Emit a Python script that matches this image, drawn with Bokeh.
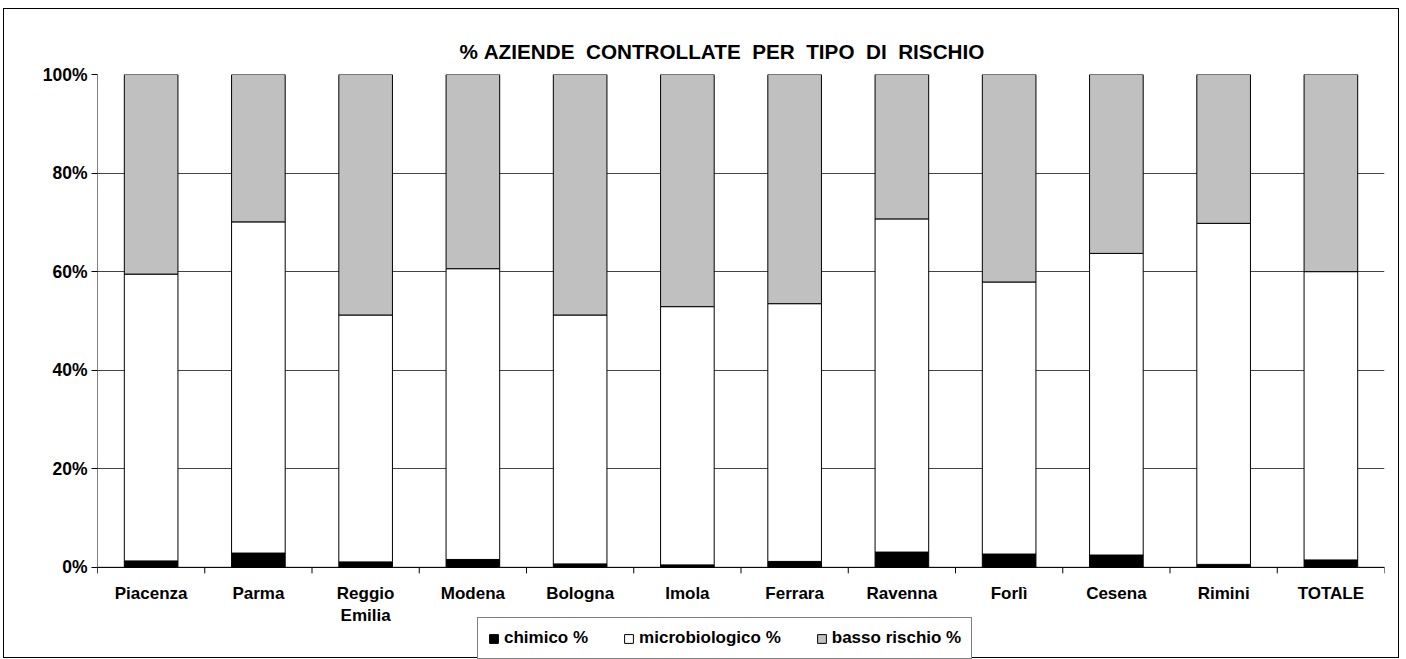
from bokeh.plotting import figure
from bokeh.models import (ColumnDataSource, FixedTicker, Legend, Title, Range1d)
from bokeh.core.properties import value
from bokeh.embed import file_html
from bokeh.resources import INLINE

categories = ["Piacenza", "Parma", "Reggio\nEmilia", "Modena", "Bologna", "Imola",
              "Ferrara", "Ravenna", "Forlì", "Cesena", "Rimini", "TOTALE"]
chimico = [1.3, 2.9, 1.1, 1.6, 0.7, 0.5, 1.2, 3.1, 2.7, 2.5, 0.6, 1.5]
microbiologico = [58.2, 67.2, 50.1, 59.0, 50.5, 52.4, 52.3, 67.6, 55.2, 61.2, 69.2, 58.5]
basso_rischio = [40.5, 29.9, 48.8, 39.4, 48.8, 47.1, 46.5, 29.3, 42.1, 36.3, 30.2, 40.0]
y_ticks = [0, 20, 40, 60, 80, 100]
y_tick_labels = ["0%", "20%", "40%", "60%", "80%", "100%"]
series_names = ["chimico %", "microbiologico %", "basso rischio %"]
title_text = "% AZIENDE  CONTROLLATE  PER  TIPO  DI  RISCHIO".replace(" ", "\u00a0")

FONT = "Liberation Sans"
PX_PER_UNIT = 4.92          # frame pixels per percentage point
TICK_LEN = 6                # x tick length in pixels
BELOW_PX = 92               # frame pixels kept below the 0% line for labels and legend
y_tick_end = -TICK_LEN / PX_PER_UNIT
y_bottom = -BELOW_PX / PX_PER_UNIT

n = len(categories)
xs = [i + 0.5 for i in range(n)]
src = ColumnDataSource(dict(x=xs, chimico=chimico, micro=microbiologico, basso=basso_rischio))

p = figure(width=1396, height=650, output_backend="svg", toolbar_location=None,
           x_range=Range1d(0, n), y_range=Range1d(y_bottom, 100),
           x_axis_location=None, min_border_left=93, min_border_right=16,
           min_border_top=65, min_border_bottom=0)
p.styles = {"border": "1px solid black", "margin-left": "3px", "margin-top": "8px"}
p.outline_line_color = None
p.background_fill_color = "white"
p.border_fill_color = "white"
p.xgrid.grid_line_color = None

renderers = p.vbar_stack(["chimico", "micro", "basso"], x="x", width=0.5, source=src,
                         fill_color=["black", "white", "#C0C0C0"], line_color="black",
                         line_width=1)

# axis lines and boundary tick marks
bounds = list(range(n + 1))
p.segment(x0=[0], y0=[y_tick_end], x1=[0], y1=[100], line_color="black", line_width=1)
p.segment(x0=[0], y0=[0], x1=[n], y1=[0], line_color="black", line_width=1)
p.segment(x0=bounds, y0=[0] * len(bounds), x1=bounds, y1=[y_tick_end] * len(bounds),
          line_color="black", line_width=1)

# category labels
p.text(x=xs, y=[0] * n, text=categories, y_offset=17, text_align="center",
       text_baseline="top", text_font=value(FONT), text_font_style="bold",
       text_font_size="17px", text_color="black", text_line_height=1.15)

# y axis
yax = p.yaxis[0]
yax.ticker = FixedTicker(ticks=y_ticks)
yax.major_label_overrides = {t: l for t, l in zip(y_ticks, y_tick_labels)}
yax.major_label_text_font = FONT
yax.major_label_text_font_style = "bold"
yax.major_label_text_font_size = "17.5px"
yax.major_label_text_color = "black"
yax.major_tick_out = 6
yax.major_tick_in = 0
yax.minor_tick_line_color = None
yax.axis_line_color = None
yax.major_tick_line_color = "black"
yax.major_label_standoff = 4
p.ygrid.ticker = FixedTicker(ticks=y_ticks)
p.ygrid.grid_line_color = "#444444"
p.ygrid.grid_line_width = 1

legend = Legend(items=[(nm, [r]) for nm, r in zip(series_names, renderers)],
                orientation="horizontal", location=(380, 0),
                label_text_font=FONT, label_text_font_style="bold",
                label_text_font_size="17px", label_text_color="black",
                glyph_width=11, glyph_height=11,
                spacing=35, padding=10, margin=0, border_line_color="black",
                border_line_width=1, label_standoff=5, background_fill_alpha=1)
p.add_layout(legend, "center")

p.title = Title(text=title_text, align="left", offset=362, text_font=FONT,
                text_font_style="bold", text_color="black",
                text_font_size="20.7px", standoff=24)

open("out.html", "w").write(file_html(p, INLINE))
